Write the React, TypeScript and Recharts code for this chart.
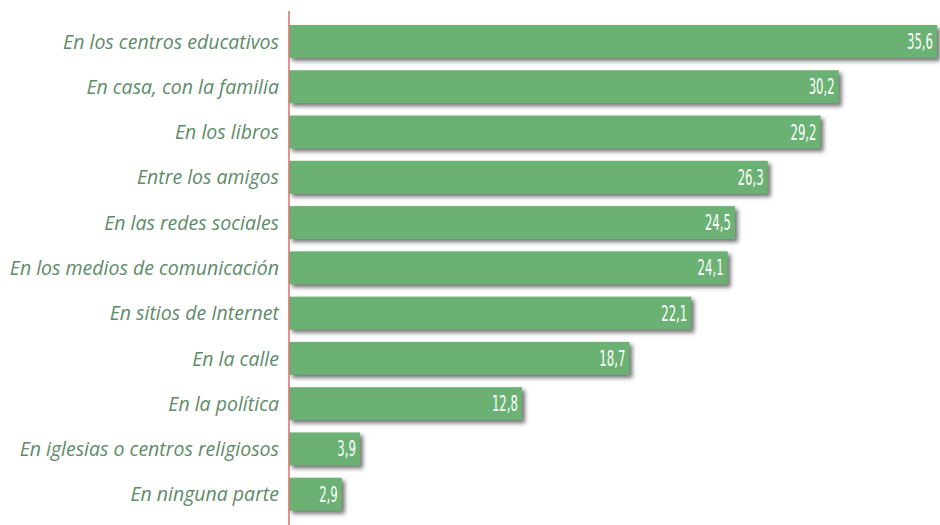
import React from "react";
import { BarChart, Bar, XAxis, YAxis, LabelList } from "recharts";

// where do young people learn about values (percent)
const places: string[] = [
  "En los centros educativos",
  "En casa, con la familia",
  "En los libros",
  "Entre los amigos",
  "En las redes sociales",
  "En los medios de comunicación",
  "En sitios de Internet",
  "En la calle",
  "En la política",
  "En iglesias o centros religiosos",
  "En ninguna parte",
];
const shares: number[] = [35.6, 30.2, 29.2, 26.3, 24.5, 24.1, 22.1, 18.7, 12.8, 3.9, 2.9];

const rows = places.map((place, i) => ({ place, share: shares[i] }));

const GREEN = "#6ab173";
const LABEL = "#5e8b69";
const AXIS_RED = "#d9716a";

function PlaceTick(props: any) {
  const { x, y, payload } = props;
  return (
    <text
      x={x - 2}
      y={y}
      dy={7}
      textAnchor="end"
      fill={LABEL}
      fontSize={19.5}
      fontStyle="italic"
      fontFamily="'Open Sans', sans-serif"
    >
      {payload.value}
    </text>
  );
}

function ShadowBar(props: any) {
  const { x, y, width, height } = props;
  return (
    <rect
      x={x}
      y={y}
      width={width}
      height={height}
      fill={GREEN}
      style={{ filter: "drop-shadow(3px 3px 2px rgba(0,0,0,0.55))" }}
    />
  );
}

function ValueLabel(props: any) {
  const { x, y, width, height, value } = props;
  const tx = x + width - 4;
  const ty = y + height / 2 + 7.5;
  return (
    <text
      transform={`translate(${tx},${ty}) scale(0.62,1)`}
      textAnchor="end"
      fill="#ffffff"
      fontSize={21}
      fontFamily="'Liberation Sans Narrow', 'DejaVu Sans Condensed', sans-serif"
    >
      {String(value).replace(".", ",")}
    </text>
  );
}

export default function App() {
  return (
    <div style={{ position: "fixed", left: 0, top: 0, background: "#fff" }}>
      <BarChart
        width={940}
        height={525}
        data={rows}
        layout="vertical"
        margin={{ top: 11, right: 3, bottom: 0, left: 0 }}
        barCategoryGap={6}
      >
        <XAxis type="number" hide domain={[0, 35.6]} />
        <YAxis
          type="category"
          dataKey="place"
          width={289}
          axisLine={{ stroke: AXIS_RED, strokeWidth: 1.5 }}
          tickLine={false}
          tick={<PlaceTick />}
          padding={{ top: 8, bottom: 8 }}
          interval={0}
        />
        <Bar dataKey="share" shape={<ShadowBar />} isAnimationActive={false}>
          <LabelList dataKey="share" content={<ValueLabel />} />
        </Bar>
      </BarChart>
    </div>
  );
}
